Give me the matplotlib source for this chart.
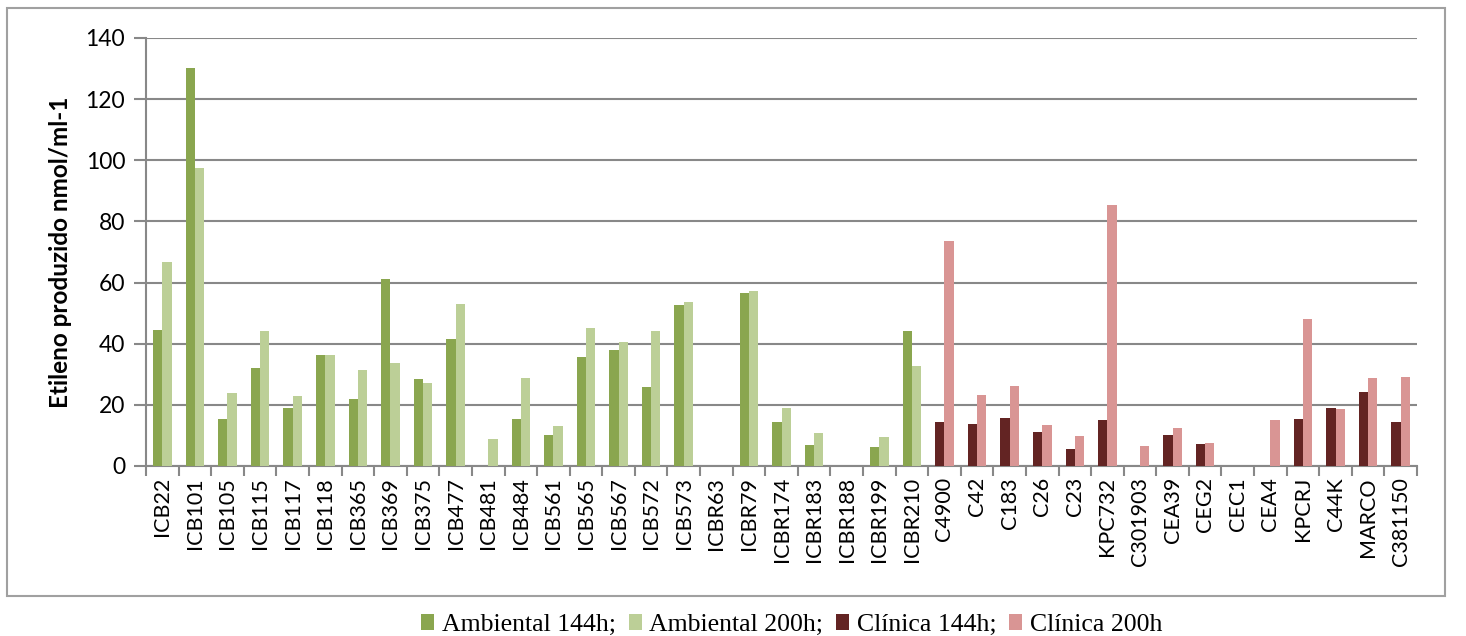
import numpy as np
import matplotlib
matplotlib.use("Agg")
import matplotlib.pyplot as plt
from matplotlib.patches import Rectangle

# strains
amb_names = ["ICB22", "ICB101", "ICB105", "ICB115", "ICB117", "ICB118", "ICB365", "ICB369",
             "ICB375", "ICB477", "ICB481", "ICB484", "ICB561", "ICB565", "ICB567", "ICB572",
             "ICB573", "ICBR63", "ICBR79", "ICBR174", "ICBR183", "ICBR188", "ICBR199", "ICBR210"]
cli_names = ["C4900", "C42", "C183", "C26", "C23", "KPC732", "C301903", "CEA39", "CEG2",
             "CEC1", "CEA4", "KPCRJ", "C44K", "MARCO", "C381150"]

# ethylene (nmol/ml-1)
amb_144 = [44.4, 130.3, 15.5, 32.0, 19.0, 36.4, 21.9, 61.3, 28.5, 41.4, 0, 15.5,
           10.0, 35.6, 38.0, 25.8, 52.7, 0, 56.6, 14.5, 7.0, 0, 6.3, 44.3]
amb_200 = [66.6, 97.5, 23.8, 44.0, 23.0, 36.2, 31.3, 33.8, 27.3, 53.0, 8.8, 28.8,
           13.2, 45.0, 40.5, 44.3, 53.6, 0, 57.4, 19.0, 10.7, 0, 9.5, 32.7]
cli_144 = [14.4, 13.7, 15.7, 11.1, 5.6, 15.0, 0, 10.1, 7.2, 0, 0, 15.4, 19.0, 24.2, 14.4]
cli_200 = [73.5, 23.2, 26.1, 13.4, 9.8, 85.3, 6.5, 12.4, 7.5, 0, 15.0, 48.0, 18.6, 28.8, 29.1]

colors = ["#8aa64f", "#bccf97", "#632423", "#d99594"]
labels = ["Ambiental 144h;", "Ambiental 200h;", "Clínica 144h;", "Clínica 200h"]

names = amb_names + cli_names
x_amb = np.arange(len(amb_names))
x_cli = np.arange(len(cli_names)) + len(amb_names)
w = 0.285

fig = plt.figure(figsize=(14.66, 6.36), dpi=100)
ax = fig.add_axes([0.0996, 0.2673, 0.867, 0.673])

ax.bar(x_amb - w/2, amb_144, w, color=colors[0], label=labels[0], zorder=3)
ax.bar(x_amb + w/2, amb_200, w, color=colors[1], label=labels[1], zorder=3)
ax.bar(x_cli - w/2, cli_144, w, color=colors[2], label=labels[2], zorder=3)
ax.bar(x_cli + w/2, cli_200, w, color=colors[3], label=labels[3], zorder=3)

ax.set_xlim(-0.5, len(names) - 0.5)
ax.set_ylim(0, 140)
ax.set_yticks(np.arange(0, 141, 20))
ax.yaxis.grid(True, color="#888888", linewidth=1.5, zorder=0)

ax.set_xticks(np.arange(len(names)))
ax.set_xticklabels(names, rotation=90, fontsize=15.5, family="Lato")
ax.set_xticks(np.arange(-0.5, len(names)), minor=True)
ax.tick_params(axis="x", which="major", length=0, pad=8)
ax.tick_params(axis="x", which="minor", length=7, width=1.5, color="#888888")
ax.tick_params(axis="y", length=9, width=1.5, color="#888888", labelsize=16.5, pad=6)
for t in ax.get_yticklabels():
    t.set_family("Lato")

for s in ["top", "right"]:
    ax.spines[s].set_visible(False)
for s in ["left", "bottom"]:
    ax.spines[s].set_color("#888888")
    ax.spines[s].set_linewidth(1.5)

ax.set_ylabel("Etileno produzido nmol/ml-1", fontsize=17.5, fontweight="bold",
              family="Lato", labelpad=10)

# chart border
fig.patches.append(Rectangle((7/1466, 1 - 596/636), 1438/1466, 588/636,
                             transform=fig.transFigure, fill=False,
                             edgecolor="#a0a0a0", linewidth=1.5))

fig.legend(loc="center", bbox_to_anchor=(0.54, 1 - 625/636), ncol=4, frameon=False,
           prop={"family": "Liberation Serif", "size": 18.5}, handlelength=0.5,
           handleheight=0.6, handletextpad=0.3, columnspacing=0.5)

fig.savefig("out.png", dpi=100)
